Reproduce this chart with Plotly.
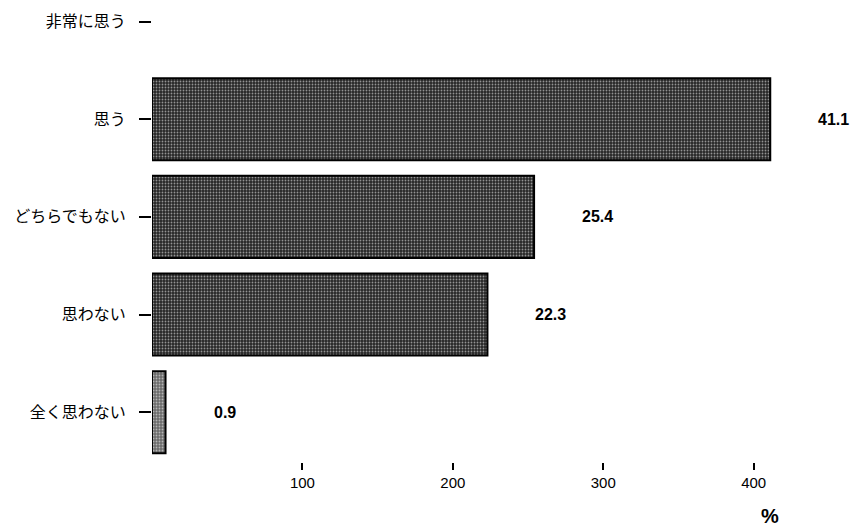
import plotly.graph_objects as go

categories = ["非常に思う", "思う", "どちらでもない", "思わない", "全く思わない"]
values = [None, 41.1, 25.4, 22.3, 0.9]
tick_vals = [10, 20, 30, 40]
tick_text = ["100", "200", "300", "400"]
unit_label = "%"

bar_colors = ["#262626", "#262626", "#262626", "#262626", "#6a6a6a"]

fig = go.Figure()
fig.add_trace(go.Bar(
    y=categories,
    x=values,
    orientation="h",
    width=0.84,
    marker=dict(
        color=bar_colors,
        line=dict(color="black", width=2),
        pattern=dict(shape=".", fgcolor="#c8c8c8", size=3, solidity=0.3, fillmode="overlay"),
    ),
    hoverinfo="skip",
))

for c, v in zip(categories, values):
    if v is None:
        continue
    fig.add_annotation(
        x=v, y=c, xref="x", yref="y",
        text=f"{v:.1f}", showarrow=False,
        xanchor="left", yanchor="middle", xshift=46,
        font=dict(family="Liberation Sans, Arial, sans-serif", size=16, color="black", weight="bold"),
    )

fig.add_annotation(
    x=0.874, y=-0.118, xref="paper", yref="paper",
    text=unit_label, showarrow=False, xanchor="center", yanchor="middle",
    font=dict(family="Liberation Sans, Arial, sans-serif", size=20, color="black", weight="bold"),
)

fig.update_layout(
    width=868, height=530,
    margin=dict(l=152, r=9, t=2, b=68, autoexpand=False),
    paper_bgcolor="white", plot_bgcolor="white",
    showlegend=False,
    xaxis=dict(
        range=[0, 47], automargin=False,
        tickvals=tick_vals, ticktext=tick_text,
        ticks="outside", ticklen=7, tickwidth=2, tickcolor="black",
        showline=False, showgrid=False, zeroline=False,
        tickfont=dict(family="Liberation Sans, Arial, sans-serif", size=15, color="black"),
    ),
    yaxis=dict(
        categoryorder="array", categoryarray=categories,
        range=[4.51, -0.2], automargin=False,
        ticks="outside", ticklen=12, tickwidth=2, tickcolor="black",
        showline=False, showgrid=False, zeroline=False,
        ticklabelstandoff=10,
        tickfont=dict(family="Noto Sans CJK JP, sans-serif", size=16, color="black"),
    ),
)

fig.write_html(
    "out.html",
    config={"displayModeBar": False, "staticPlot": True},
    post_script="document.body.style.margin='0';document.body.style.overflow='hidden';",
)
